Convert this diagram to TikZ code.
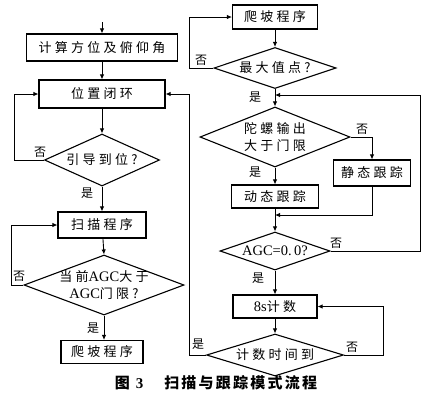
\documentclass[tikz,border=0pt]{standalone}
\usepackage{fontspec}
\setmainfont{Liberation Serif}
\newfontfamily\cjk[LetterSpace=25]{Noto Sans CJK SC}
\newfontfamily\capfont[LetterSpace=15]{Noto Sans CJK SC}
\newcommand{\lat}[1]{{\rmfamily\fontsize{14.5}{17}\selectfont #1}}
\usetikzlibrary{shapes.geometric,arrows.meta}
\begin{document}
\begin{tikzpicture}[x=1pt,y=-1pt,
  txt/.style={font=\cjk\fontsize{13}{17}\selectfont,align=center,inner sep=0pt},
  box/.style={draw,line width=1.1pt,inner sep=0pt,txt},
  dia/.style={draw,shape=diamond,line width=1.1pt,inner sep=0pt},
  arr/.style={-{Latex[length=5pt,width=4.5pt]},line width=0.9pt},
  lab/.style={font=\cjk\fontsize{12}{12}\selectfont,inner sep=0pt}]
\useasboundingbox (0,0) rectangle (425,400);
% coordinates for free ends and loop lines
\coordinate (top) at (102,22);
\coordinate (lx1) at (14,0);
\coordinate (lx2) at (11,0);
\coordinate (rx1) at (189,0);
\coordinate (rx2) at (420,0);
\coordinate (rx3) at (383,0);
\coordinate (j1) at (275,215);
\coordinate (j2) at (275,95);
% left column
\node[box,minimum width=151pt,minimum height=27pt] (n1) at (102,47.5) {计算方位及俯仰角};
\node[box,minimum width=126pt,minimum height=28pt] (n2) at (102,94) {位置闭环};
\node[dia,minimum width=115pt,minimum height=52pt,label={[txt]center:引导到位?}] (d1) at (102,160) {};
\node[box,minimum width=88pt,minimum height=26pt] (n3) at (102,225) {扫描程序};
\node[dia,minimum width=160pt,minimum height=60pt,label={[txt]center:当前\lat{AGC}大于\\\lat{AGC}门限?}] (d2) at (104,285) {};
\node[box,minimum width=82pt,minimum height=23pt] (n4) at (102,352) {爬坡程序};
% right column
\node[box,minimum width=85pt,minimum height=24pt] (r1) at (275,17) {爬坡程序};
\node[dia,minimum width=122pt,minimum height=41pt,label={[txt]center:最大值点?}] (r2) at (275,68) {};
\node[dia,minimum width=150pt,minimum height=60pt,label={[txt]center:陀螺输出\\大于门限}] (r3) at (275,137) {};
\node[box,minimum width=77pt,minimum height=26pt] (r4) at (372,173) {静态跟踪};
\node[box,minimum width=87pt,minimum height=23pt] (r5) at (275,196.5) {动态跟踪};
\node[dia,minimum width=110pt,minimum height=38pt,label={[txt]center:\lat{AGC=0.\,0?}}] (r6) at (275,251) {};
\node[box,minimum width=84pt,minimum height=23pt] (r7) at (275,306.5) {\lat{8s}计数};
\node[dia,minimum width=137pt,minimum height=42pt,label={[txt]center:计数时间到}] (r8) at (275,355) {};
% connectors left
\draw[arr] (top) -- (n1);
\draw[arr] (n1) -- (n2);
\draw[arr] (n2) -- (d1);
\draw[arr] (d1) -- (n3);
\draw[arr] (n3) -- (d2.north);
\draw[arr] (d2.south) -- (d2.south |- n4.north);
\draw[arr] (d1.west) -- (d1.west -| lx1) |- (n2.west);
\draw[arr] (d2.west) -- (d2.west -| lx2) |- (n3.west);
% connectors right
\draw[arr] (r2.west) -- (r2.west -| rx1) |- (r1.west);
\draw[arr] (r1) -- (r2);
\draw[arr] (r2) -- (r3);
\draw[arr] (r3.east) -| (r4.north);
\draw[arr] (r3) -- (r5);
\draw[arr] (r4.south) |- (j1);
\draw[arr] (r5) -- (r6);
\draw[arr] (r6.east) -- (r6.east -| rx2) |- (j2);
\draw[arr] (r6) -- (r7);
\draw[arr] (r7) -- (r8);
\draw[arr] (r8.east) -- (r8.east -| rx3) |- (r7.east);
\draw[arr] (r8.west) -- (r8.west -| rx1) |- (n2.east);
% branch labels
\node[lab] (l1) at (40,152) {否};
\node[lab] (l2) at (87,193) {是};
\node[lab] (l3) at (19,276) {否};
\node[lab] (l4) at (93,328) {是};
\node[lab] (l5) at (201,60) {否};
\node[lab] (l6) at (255,97) {是};
\node[lab] (l7) at (362,129) {否};
\node[lab] (l8) at (255,172) {是};
\node[lab] (l9) at (336,243) {否};
\node[lab] (l10) at (258,278) {是};
\node[lab] (l11) at (352,347) {否};
\node[lab] (l12) at (198,344) {是};
% caption
\node[font=\capfont\bfseries\fontsize{15}{15}\selectfont,inner sep=0pt] (cap) at (216,383) {图\hspace{0.4em}{\rmfamily\fontsize{15}{15}\selectfont 3}\hspace{1.4em}扫描与跟踪模式流程};
\end{tikzpicture}
\end{document}
